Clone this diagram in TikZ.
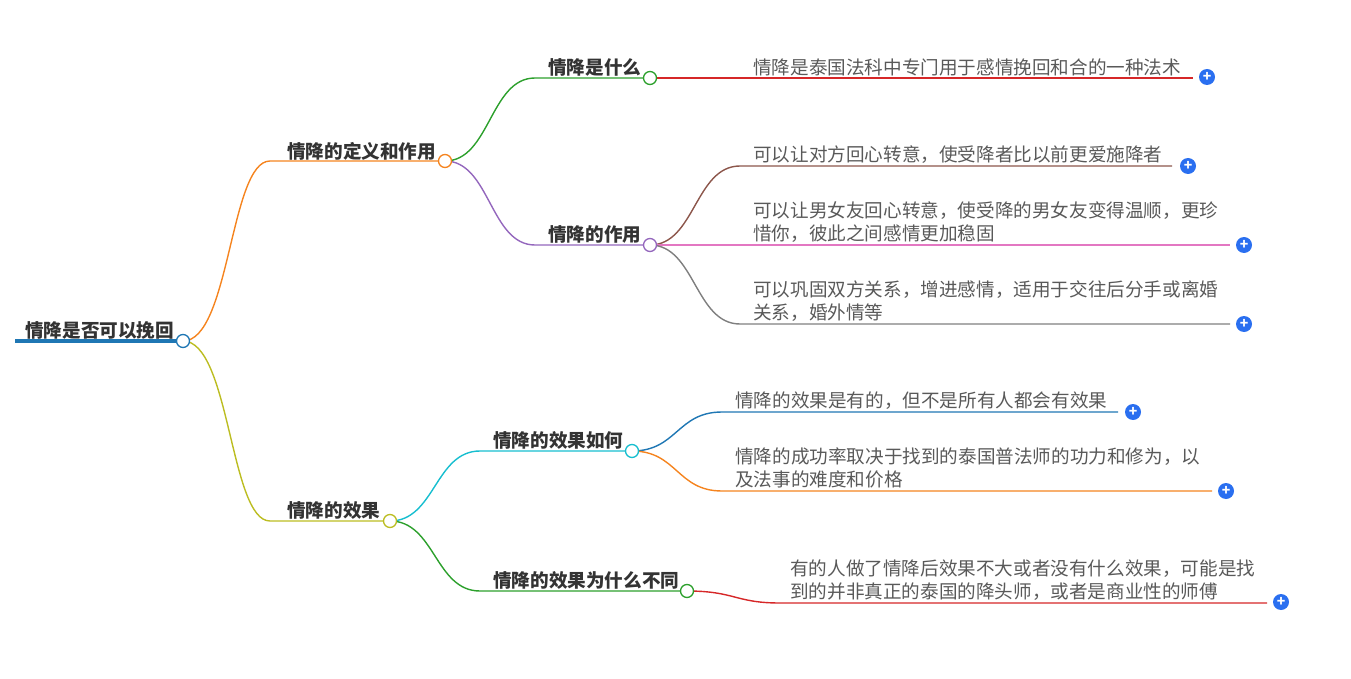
\documentclass[tikz,border=0pt]{standalone}
\usepackage{fontspec}
\setmainfont{Noto Sans CJK SC}
\begin{document}
\begin{tikzpicture}[x=1pt,y=-1pt,
  lbl/.style={font=\fontsize{18.6}{23}\selectfont\bfseries,text=black!80,inner sep=0pt,anchor=west},
  leaf/.style={font=\fontsize{18.6}{23}\selectfont,text=black!65,inner sep=0pt,anchor=west,align=left},
  dot/.style={circle,draw=#1,fill=white,line width=1.3pt,minimum size=13pt,inner sep=0pt},
  plus/.style={circle,fill=cPl,minimum size=16pt,inner sep=0pt,text=white,font=\bfseries\fontsize{14}{14}\selectfont},
  ln/.style={line width=1.4pt,draw=#1}]
\useasboundingbox (0,0) rectangle (1351,679);
\definecolor{cOr}{HTML}{F5841F}\definecolor{cGr}{HTML}{2CA02C}\definecolor{cRd}{HTML}{D62728}
\definecolor{cPu}{HTML}{9467BD}\definecolor{cBr}{HTML}{8C564B}\definecolor{cPk}{HTML}{E377C2}
\definecolor{cGy}{HTML}{7F7F7F}\definecolor{cOl}{HTML}{BCBD22}\definecolor{cCy}{HTML}{17BECF}
\definecolor{cBl}{HTML}{1F77B4}\definecolor{cPl}{HTML}{2A6FF0}
% coordinates
\coordinate (r) at (183,341); \coordinate (r0) at (15,341);
\coordinate (a) at (445,161); \coordinate (a1) at (650,78); \coordinate (a2) at (650,245);
\coordinate (e1) at (1193,78); \coordinate (e2) at (1172,166); \coordinate (e3) at (1230,245); \coordinate (e4) at (1230,324);
\coordinate (b) at (390,521); \coordinate (b1) at (632,451); \coordinate (b2) at (687,591);
\coordinate (f1) at (1118,412); \coordinate (f2) at (1212,491); \coordinate (f3) at (1267,603);
% lines
\draw[line width=4pt,draw=cBl] (r0) -- (r);
\draw[ln=cOr] (r) .. controls (230,341) and (230,161) .. (270,161) -- (a);
\draw[ln=cGr] (a) .. controls (490,161) and (490,78) .. (535,78) -- (a1);
\draw[ln=cRd] (a1) -- (e1);
\draw[ln=cPu] (a) .. controls (490,161) and (490,245) .. (535,245) -- (a2);
\draw[ln=cBr] (a2) .. controls (695,245) and (695,166) .. (740,166) -- (e2);
\draw[ln=cPk] (a2) -- (e3);
\draw[ln=cGy] (a2) .. controls (695,245) and (695,324) .. (740,324) -- (e4);
\draw[ln=cOl] (r) .. controls (230,341) and (230,521) .. (270,521) -- (b);
\draw[ln=cCy] (b) .. controls (435,521) and (435,451) .. (480,451) -- (b1);
\draw[ln=cBl] (b1) .. controls (677,451) and (677,412) .. (722,412) -- (f1);
\draw[ln=cOr] (b1) .. controls (677,451) and (677,491) .. (722,491) -- (f2);
\draw[ln=cGr] (b) .. controls (435,521) and (435,591) .. (480,591) -- (b2);
\draw[ln=cRd] (b2) .. controls (735,591) and (735,603) .. (780,603) -- (f3);
% dots
\node[dot=cBl] (nr) at (r) {}; \node[dot=cOr] (na) at (a) {};
\node[dot=cGr] (na1) at (a1) {}; \node[dot=cPu] (na2) at (a2) {};
\node[dot=cOl] (nb) at (b) {}; \node[dot=cCy] (nb1) at (b1) {}; \node[dot=cGr] (nb2) at (b2) {};
% labels
\node[lbl] (tr) at (25,330) {情降是否可以挽回};
\node[lbl] (ta) at (287,151) {情降的定义和作用};
\node[lbl] (ta1) at (548,67) {情降是什么};
\node[lbl] (ta2) at (548,234) {情降的作用};
\node[lbl] (tb) at (287,510) {情降的效果};
\node[lbl] (tb1) at (493,440) {情降的效果如何};
\node[lbl] (tb2) at (493,580) {情降的效果为什么不同};
% leaves
\node[leaf] (l1) at (753,67) {情降是泰国法科中专门用于感情挽回和合的一种法术};
\node[leaf] (l2) at (753,155) {可以让对方回心转意，使受降者比以前更爱施降者};
\node[leaf] (l3) at (753,222) {可以让男女友回心转意，使受降的男女友变得温顺，更珍\\惜你，彼此之间感情更加稳固};
\node[leaf] (l4) at (753,301) {可以巩固双方关系，增进感情，适用于交往后分手或离婚\\关系，婚外情等};
\node[leaf] (l5) at (735,401) {情降的效果是有的，但不是所有人都会有效果};
\node[leaf] (l6) at (735,468) {情降的成功率取决于找到的泰国普法师的功力和修为，以\\及法事的难度和价格};
\node[leaf] (l7) at (790,580) {有的人做了情降后效果不大或者没有什么效果，可能是找\\到的并非真正的泰国的降头师，或者是商业性的师傅};
% plus
\foreach \n/\p in {p1/{1207,77},p2/{1188,166},p3/{1244,245},p4/{1244,324},p5/{1133,412},p6/{1226,491},p7/{1281,602}}
  \node[plus] (\n) at (\p) {+};
\end{tikzpicture}
\end{document}
